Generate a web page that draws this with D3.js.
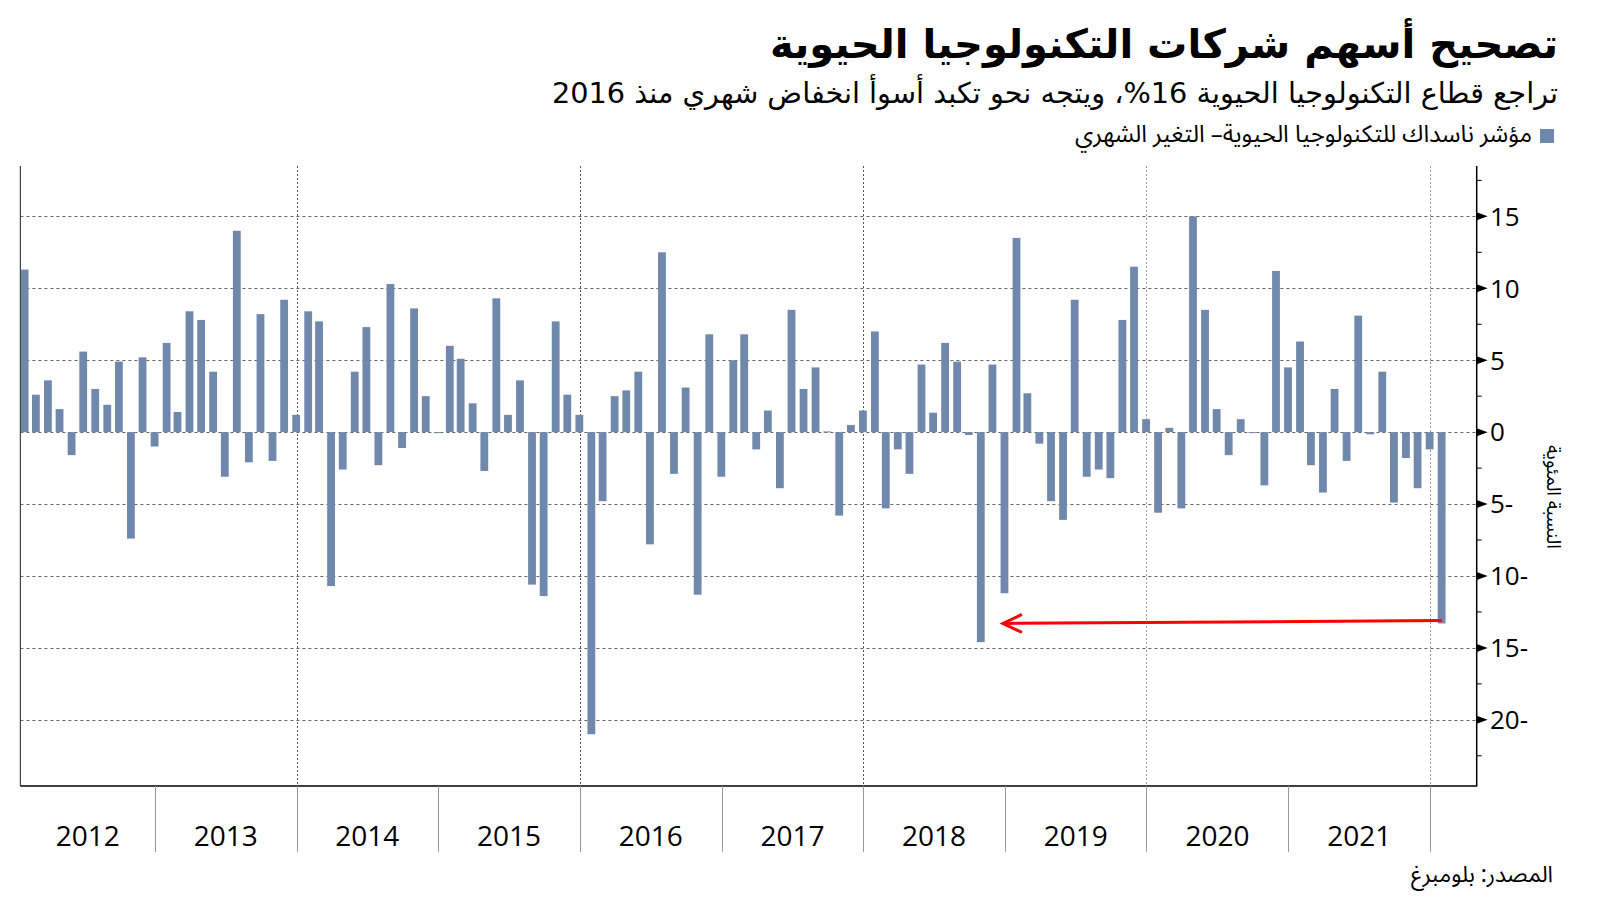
<!DOCTYPE html>
<html><head><meta charset="utf-8">
<script src="https://cdn.jsdelivr.net/npm/d3@7"></script>
<style>
html,body{margin:0;padding:0;background:#fff;}
svg{display:block;}
</style></head>
<body>
<svg id="chart" width="1600" height="901"></svg>
<script>
// ---- data ----
const titleText = "تصحيح أسهم شركات التكنولوجيا الحيوية";
const subtitleText = "تراجع قطاع التكنولوجيا الحيوية 16%، ويتجه نحو تكبد أسوأ انخفاض شهري منذ 2016";
const legendText = "مؤشر ناسداك للتكنولوجيا الحيوية– التغير الشهري";
const sourceText = "المصدر: بلومبرغ";
const yAxisTitle = "النسبة المئوية";

const firstMonth = "2012-01";
const lastMonth = "2022-01";
const monthlyChange = [
  // 2012
  11.3, 2.6, 3.6, 1.6, -1.6, 5.6, 3.0, 1.9, 4.9, -7.4, 5.2, -1.0,
  // 2013
  6.2, 1.4, 8.4, 7.8, 4.2, -3.1, 14.0, -2.1, 8.2, -2.0, 9.2, 1.2,
  // 2014
  8.4, 7.7, -10.7, -2.6, 4.2, 7.3, -2.3, 10.3, -1.1, 8.6, 2.5, -0.05,
  // 2015
  6.0, 5.1, 2.0, -2.7, 9.3, 1.2, 3.6, -10.6, -11.4, 7.7, 2.6, 1.2,
  // 2016
  -21.0, -4.8, 2.5, 2.9, 4.2, -7.8, 12.5, -2.9, 3.1, -11.3, 6.8, -3.1,
  // 2017
  5.0, 6.8, -1.2, 1.5, -3.9, 8.5, 3.0, 4.5, 0.05, -5.8, 0.5, 1.5,
  // 2018
  7.0, -5.3, -1.2, -2.9, 4.7, 1.35, 6.2, 4.9, -0.2, -14.6, 4.7, -11.2,
  // 2019
  13.5, 2.7, -0.8, -4.8, -6.1, 9.2, -3.1, -2.6, -3.2, 7.8, 11.5, 0.9,
  // 2020
  -5.6, 0.3, -5.3, 15.0, 8.5, 1.6, -1.6, 0.9, -0.05, -3.7, 11.2, 4.5,
  // 2021
  6.3, -2.3, -4.2, 3.0, -2.0, 8.1, -0.15, 4.2, -4.9, -1.8, -3.9, -1.2,
  // 2022
  -13.3
];
const yearLabels = ["2012","2013","2014","2015","2016","2017","2018","2019","2020","2021"];
const yearTicks = ["2013","2014","2015","2016","2017","2018","2019","2020","2021","2022"];
const gridYears = ["2014","2016","2018","2020","2022"];
const yTickValues = [15, 10, 5, 0, -5, -10, -15, -20];
const yMinorValues = [17.5, 12.5, 7.5, 2.5, -2.5, -7.5, -12.5, -17.5, -22.5];
const yDomain = [-24.6, 18.5];
const xDomain = ["2012-01-01", "2022-01-01"];
const arrowStart = {date: "2022-01-31", value: -13.1};
const arrowEnd = {date: "2018-12-27", value: -13.3};

// ---- layout ----
const barColor = "#6f88ab";
const L = 20.4, R = 1476.7, T = 166, B = 786;
const svg = d3.select("#chart");
const parse = d3.timeParse("%Y-%m-%d");
const parseM = d3.timeParse("%Y-%m");

const x = d3.scaleTime().domain(xDomain.map(parse)).range([13, 1430]);
const y = d3.scaleLinear().domain(yDomain).range([B, T]);

const months = d3.timeMonth.range(parseM(firstMonth), d3.timeMonth.offset(parseM(lastMonth), 1));
const data = months.map((m, i) => ({date: d3.timeDay.offset(d3.timeMonth.offset(m, 1), -1), value: monthlyChange[i]}));

const arFont = "'Noto Sans Arabic','DejaVu Sans','Noto Sans',sans-serif";
const arFontTitle = "'DejaVu Sans','Noto Sans Arabic',sans-serif";

// right-aligned Arabic text; font-size adjusted so the text spans a target width
function addText(xp, yp, txt, opts) {
  const t = svg.append("text")
    .attr("x", xp).attr("y", yp)
    .attr("text-anchor", "end")
    .style("font-family", opts.font || arFont)
    .style("font-size", opts.size + "px")
    .style("font-weight", opts.weight || "normal")
    .style("fill", opts.fill || "#000")
    .text(txt);
  if (opts.width) {
    const w = t.node().getComputedTextLength();
    if (w > 0) {
      let fs = opts.size * opts.width / w;
      fs = Math.max(opts.size * 0.75, Math.min(opts.size * 1.2, fs));
      t.style("font-size", fs.toFixed(2) + "px");
    }
  }
  return t;
}

// titles
addText(1558, 58, titleText, {size: 44, weight: "bold", width: 788, font: arFontTitle});
addText(1558, 103, subtitleText, {size: 29, width: 1006, font: arFontTitle});
// legend
svg.append("rect").attr("x", 1540).attr("y", 129).attr("width", 14).attr("height", 14).attr("fill", barColor);
addText(1532, 142, legendText, {size: 20, width: 457});

// clip
svg.append("clipPath").attr("id", "plotclip").append("rect")
  .attr("x", L).attr("y", T).attr("width", R - L).attr("height", B - T);

// horizontal grid
svg.append("g").selectAll("line").data(yTickValues).join("line")
  .attr("x1", L).attr("x2", R)
  .attr("y1", d => Math.round(y(d)) + 0.5).attr("y2", d => Math.round(y(d)) + 0.5)
  .attr("stroke", "#666").attr("stroke-width", 1).attr("stroke-dasharray", "3,3");

// vertical dotted grid
svg.append("g").selectAll("line").data(gridYears).join("line")
  .attr("x1", d => Math.round(x(parse(d + "-01-01"))) + 0.5)
  .attr("x2", d => Math.round(x(parse(d + "-01-01"))) + 0.5)
  .attr("y1", T).attr("y2", B)
  .attr("stroke", (d, i) => i < 3 ? "#555" : "#999")
  .attr("stroke-width", 1).attr("stroke-dasharray", "2,2");

// bars
const bw = 7.8;
svg.append("g").attr("clip-path", "url(#plotclip)")
  .selectAll("rect").data(data).join("rect")
  .attr("x", d => x(d.date) - bw / 2)
  .attr("width", bw)
  .attr("y", d => Math.min(y(d.value), y(0)))
  .attr("height", d => Math.max(1, Math.abs(y(d.value) - y(0))))
  .attr("fill", barColor);

// frame
svg.append("line").attr("x1", L).attr("x2", L).attr("y1", T).attr("y2", B)
  .attr("stroke", "#444").attr("stroke-width", 1.2);
svg.append("line").attr("x1", L).attr("x2", R + 0.6).attr("y1", B).attr("y2", B)
  .attr("stroke", "#000").attr("stroke-width", 1.5);
svg.append("line").attr("x1", R).attr("x2", R).attr("y1", T).attr("y2", B)
  .attr("stroke", "#000").attr("stroke-width", 1.5);

// right y-axis ticks
const yAxisG = svg.append("g");
yAxisG.selectAll("path.maj").data(yTickValues).join("path")
  .attr("d", d => { const yy = y(d); return `M${R},${yy - 4} L${R + 11},${yy} L${R},${yy + 4} Z`; })
  .attr("fill", "#000");
yAxisG.selectAll("line.min").data(yMinorValues).join("line")
  .attr("x1", R).attr("x2", R + 5)
  .attr("y1", d => y(d)).attr("y2", d => y(d))
  .attr("stroke", "#000").attr("stroke-width", 1);
yAxisG.selectAll("text").data(yTickValues).join("text")
  .attr("x", 1490).attr("y", d => y(d))
  .attr("dy", "0.36em")
  .attr("text-anchor", "start")
  .style("font-family", "'Open Sans','Noto Sans',sans-serif")
  .style("font-size", "26px")
  .style("fill", "#000")
  .text(d => d < 0 ? `${-d}-` : `${d}`);

// y-axis title (rotated)
svg.append("text")
  .attr("transform", `translate(1547,${y(-4.5)}) rotate(90)`)
  .attr("text-anchor", "middle")
  .style("font-family", arFont)
  .style("font-size", "19px")
  .style("fill", "#000")
  .text(yAxisTitle);

// bottom year ticks
svg.append("g").selectAll("line").data(yearTicks).join("line")
  .attr("x1", d => Math.round(x(parse(d + "-01-01"))) + 0.5)
  .attr("x2", d => Math.round(x(parse(d + "-01-01"))) + 0.5)
  .attr("y1", B).attr("y2", B + 66)
  .attr("stroke", "#999").attr("stroke-width", 1);

// year labels centred in visible portion of each year
svg.append("g").selectAll("text").data(yearLabels).join("text")
  .attr("x", d => {
    const a = Math.max(x(parse(d + "-01-01")), L);
    const b = x(parse((+d + 1) + "-01-01"));
    return (a + b) / 2;
  })
  .attr("y", 846)
  .attr("text-anchor", "middle")
  .style("font-family", "'Open Sans','Noto Sans',sans-serif")
  .style("font-size", "28px")
  .style("fill", "#000")
  .text(d => d);

// source
addText(1553, 882, sourceText, {size: 20, width: 142});

// red arrow annotation
const ax1 = x(parse(arrowStart.date)), ay1 = y(arrowStart.value);
const ax2 = x(parse(arrowEnd.date)), ay2 = y(arrowEnd.value);
svg.append("line").attr("x1", ax1).attr("y1", ay1).attr("x2", ax2 + 1).attr("y2", ay2)
  .attr("stroke", "#ff0000").attr("stroke-width", 3);
svg.append("path")
  .attr("d", `M${ax2 + 19},${ay2 - 9} L${ax2},${ay2} L${ax2 + 19},${ay2 + 9}`)
  .attr("fill", "none").attr("stroke", "#ff0000").attr("stroke-width", 3)
  .attr("stroke-linejoin", "miter");
</script>
</body></html>
